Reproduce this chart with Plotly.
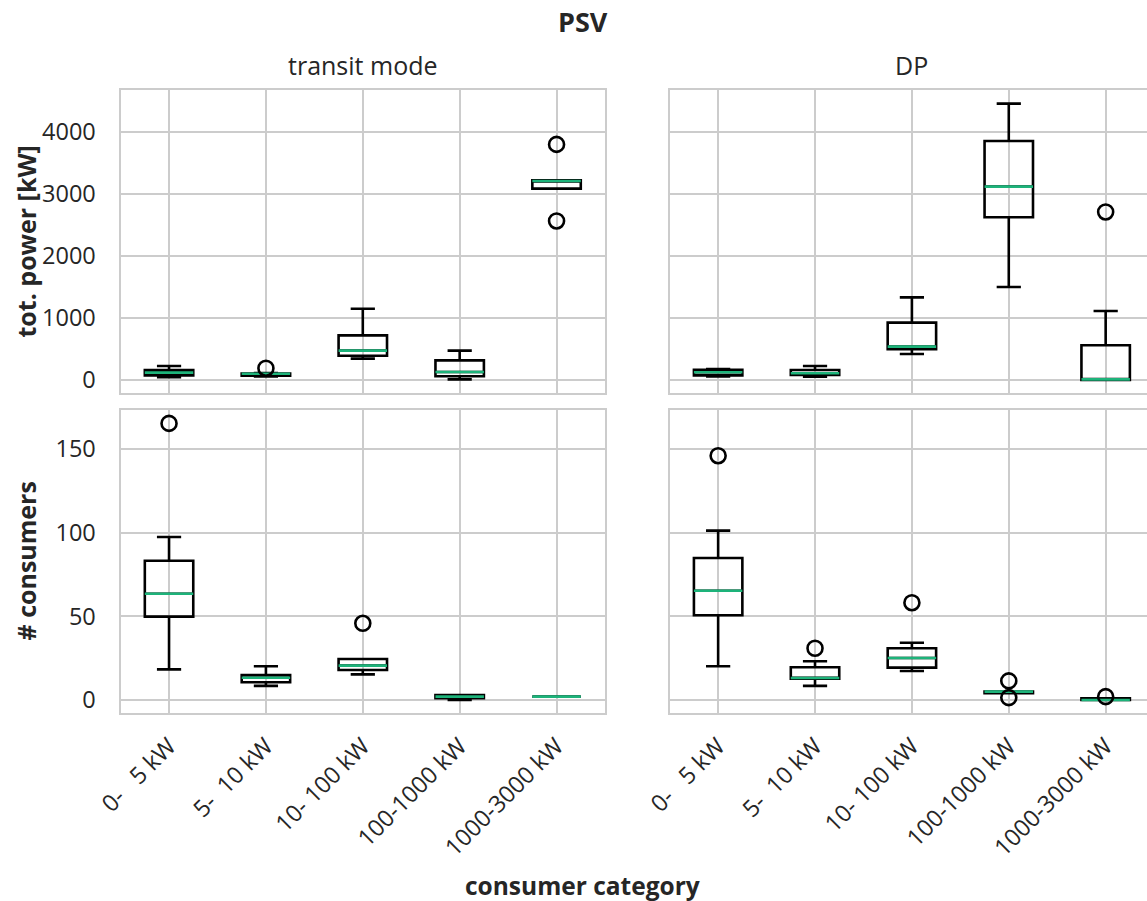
import plotly.graph_objects as go

# ---------------- data ----------------
categories = ["0-\u00a0\u00a0\u00a05 kW", "5-\u00a0\u00a010 kW", "10-\u00a0100 kW", "100-1000 kW", "1000-3000 kW"]
positions = [0, 1, 2, 3, 4]
panel_titles = ["transit mode", "DP"]
y_titles = ["tot. power [kW]", "# consumers"]

# tot. power [kW] - transit mode
pow_tm_lo = [45, 55, 345, 10, 3086]
pow_tm_q1 = [75, 70, 392, 59, 3086]
pow_tm_med = [118, 100, 473, 129, 3210]
pow_tm_q3 = [160, 105, 720, 317, 3220]
pow_tm_hi = [225, 110, 1150, 473, 3220]
pow_tm_out = [[], [190], [], [], [3800, 2565]]

# tot. power [kW] - DP
pow_dp_lo = [55, 54, 419, 1500, 0]
pow_dp_q1 = [75, 81, 495, 2624, 0]
pow_dp_med = [125, 108, 538, 3118, 10]
pow_dp_q3 = [165, 161, 925, 3855, 560]
pow_dp_hi = [175, 226, 1333, 4457, 1113]
pow_dp_out = [[], [], [], [], [2710]]

# # consumers - transit mode
con_tm_lo = [18.3, 8.4, 15.3, 0, 2]
con_tm_q1 = [49.8, 10.6, 17.9, 1, 2]
con_tm_med = [63.5, 13.3, 20.5, 2, 2]
con_tm_q3 = [83.2, 14.9, 24.5, 3, 2]
con_tm_hi = [97.4, 20.1, 24.5, 3, 2]
con_tm_out = [[165.3], [], [45.8], [], []]

# # consumers - DP
con_dp_lo = [20.1, 8.4, 17.3, 4, 0]
con_dp_q1 = [50.6, 12.7, 19.3, 4, 0]
con_dp_med = [65.3, 13.1, 25.1, 5, 0]
con_dp_q3 = [84.8, 19.5, 30.9, 5, 1]
con_dp_hi = [101.2, 23.1, 34.2, 5, 1]
con_dp_out = [[146], [30.9], [58.1], [11.4, 1.4], [2]]

FONT = "Open Sans"
TXT = "#262626"
GREEN = "#1db37a"
GRID = "#cccccc"
BOX_W = 0.5

panels = [
    ("x", "y", pow_tm_lo, pow_tm_q1, pow_tm_med, pow_tm_q3, pow_tm_hi, pow_tm_out),
    ("x2", "y2", pow_dp_lo, pow_dp_q1, pow_dp_med, pow_dp_q3, pow_dp_hi, pow_dp_out),
    ("x3", "y3", con_tm_lo, con_tm_q1, con_tm_med, con_tm_q3, con_tm_hi, con_tm_out),
    ("x4", "y4", con_dp_lo, con_dp_q1, con_dp_med, con_dp_q3, con_dp_hi, con_dp_out),
]

fig = go.Figure()

for xa, ya, lo, q1, med, q3, hi, outs in panels:
    fig.add_trace(go.Box(
        x=positions, q1=q1, median=med, q3=q3, lowerfence=lo, upperfence=hi,
        xaxis=xa, yaxis=ya, width=BOX_W, whiskerwidth=0.5,
        line=dict(color="black", width=2.6), fillcolor="rgba(0,0,0,0)",
        boxpoints=False, showlegend=False, hoverinfo="skip",
    ))
for xa, ya, lo, q1, med, q3, hi, outs in panels:
    mx, my = [], []
    for p, m in zip(positions, med):
        mx += [p - BOX_W / 2, p + BOX_W / 2, None]
        my += [m, m, None]
    fig.add_trace(go.Scatter(
        x=mx, y=my, mode="lines", line=dict(color=GREEN, width=2.6),
        xaxis=xa, yaxis=ya, showlegend=False, hoverinfo="skip",
    ))
    ox, oy = [], []
    for p, o in zip(positions, outs):
        for v in o:
            ox.append(p)
            oy.append(v)
    fig.add_trace(go.Scatter(
        x=ox, y=oy, mode="markers",
        marker=dict(symbol="circle-open", size=15, color="black",
                    line=dict(color="black", width=2.6)),
        xaxis=xa, yaxis=ya, showlegend=False, hoverinfo="skip",
    ))

W, H = 1147, 901
xl = [120.6 / W, 605 / W]
xr = [669.7 / W, 1.0]
yt = [1 - 393 / H, 1 - 90 / H]
yb = [1 - 713 / H, 1 - 410 / H]
right_range_max = -0.5 + (W - 669.7) / ((605 - 120.6) / 5)

tickfont = dict(family=FONT, size=23.5, color=TXT)

def xax(domain, anchor, rng, labels):
    return dict(domain=domain, anchor=anchor, range=rng, tickmode="array",
                tickvals=positions, ticktext=categories, showticklabels=labels,
                tickangle=-45, tickfont=tickfont, ticks="", ticklabelstandoff=8,
                showgrid=True, gridcolor=GRID, gridwidth=1.8, zeroline=False,
                showline=True, mirror=True, linecolor=GRID, linewidth=2.2,
                automargin=False)

def yax(domain, anchor, rng, tickvals, labels, mirror):
    return dict(domain=domain, anchor=anchor, range=rng, tickmode="array",
                tickvals=tickvals, showticklabels=labels, tickfont=tickfont,
                ticks="", ticklabelstandoff=18,
                showgrid=True, gridcolor=GRID, gridwidth=1.8, zeroline=False,
                showline=True, mirror=mirror, linecolor=GRID, linewidth=2.2,
                automargin=False)

pow_ticks = [0, 1000, 2000, 3000, 4000]
con_ticks = [0, 50, 100, 150]
pow_range = [-210, 4677]
con_range = [-7.8, 173.3]

fig.update_layout(
    width=W, height=H, margin=dict(l=0, r=0, t=0, b=0),
    paper_bgcolor="white", plot_bgcolor="white",
    xaxis=xax(xl, "y", [-0.5, 4.5], False),
    xaxis2=xax(xr, "y2", [-0.5, right_range_max], False),
    xaxis3=xax(xl, "y3", [-0.5, 4.5], True),
    xaxis4=xax(xr, "y4", [-0.5, right_range_max], True),
    yaxis=yax(yt, "x", pow_range, pow_ticks, True, True),
    yaxis2=yax(yt, "x2", pow_range, pow_ticks, False, False),
    yaxis3=yax(yb, "x3", con_range, con_ticks, True, True),
    yaxis4=yax(yb, "x4", con_range, con_ticks, False, False),
    showlegend=False,
)

ann = []
ann.append(dict(text="<b>PSV</b>", x=583 / W, y=1 - 21.5 / H, xref="paper", yref="paper",
                showarrow=False, xanchor="center", yanchor="middle",
                font=dict(family=FONT, size=27, color=TXT)))
ann.append(dict(text=panel_titles[0], x=(xl[0] + xl[1]) / 2, y=1 - 65 / H, xref="paper", yref="paper",
                showarrow=False, xanchor="center", yanchor="middle",
                font=dict(family=FONT, size=25, color=TXT)))
ann.append(dict(text=panel_titles[1], x=(669.7 + 1154) / 2 / W, y=1 - 65 / H, xref="paper", yref="paper",
                showarrow=False, xanchor="center", yanchor="middle",
                font=dict(family=FONT, size=25, color=TXT)))
ann.append(dict(text="<b>" + y_titles[0] + "</b>", x=25 / W, y=(yt[0] + yt[1]) / 2, xref="paper", yref="paper",
                showarrow=False, xanchor="center", yanchor="middle", textangle=-90,
                font=dict(family=FONT, size=25, color=TXT)))
ann.append(dict(text="<b>" + y_titles[1] + "</b>", x=25 / W, y=(yb[0] + yb[1]) / 2, xref="paper", yref="paper",
                showarrow=False, xanchor="center", yanchor="middle", textangle=-90,
                font=dict(family=FONT, size=25, color=TXT)))
ann.append(dict(text="<b>consumer category</b>", x=583 / W, y=1 - 885 / H, xref="paper", yref="paper",
                showarrow=False, xanchor="center", yanchor="middle",
                font=dict(family=FONT, size=24.5, color=TXT)))
fig.update_layout(annotations=ann)

fig.write_html("out.html")
